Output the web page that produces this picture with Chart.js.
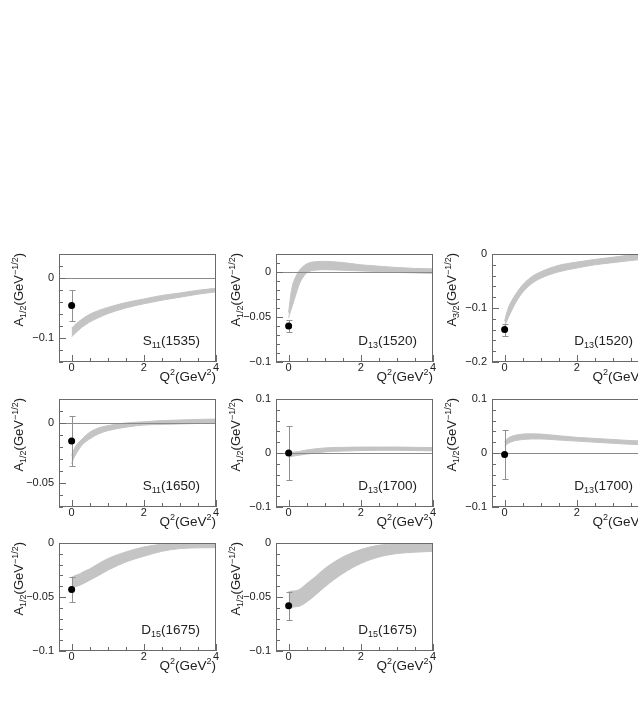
<!DOCTYPE html>
<html>
<head>
<meta charset="utf-8">
<script src="https://cdn.jsdelivr.net/npm/chart.js@4.4.1/dist/chart.umd.min.js"></script>
<style>
  html, body { margin: 0; padding: 0; background: #fff; overflow: hidden; }
  #page { position: relative; width: 638px; height: 715px; overflow: hidden; background: #fff; }
  #page canvas { position: absolute; }
</style>
</head>
<body>
<div id="page"></div>
<script>
// Q^2 grid (GeV^2) shared by every band
const qGrid = [0, 0.05, 0.1, 0.2, 0.3, 0.5, 0.75, 1, 1.5, 2, 2.5, 3, 3.5, 4];

// band edges
const s1535Lo   = [-0.098, -0.095, -0.092, -0.0865, -0.0815, -0.0735, -0.066, -0.0595, -0.050, -0.043, -0.037, -0.032, -0.027, -0.023];
const s1535Hi   = [-0.0835, -0.0805, -0.0775, -0.0725, -0.068, -0.0605, -0.054, -0.049, -0.041, -0.035, -0.029, -0.025, -0.0205, -0.017];
const d1520a1Lo = [-0.051, -0.044, -0.038, -0.025, -0.013, -0.001, 0.002, 0.0026, 0.002, 0.0012, 0.0005, -0.0005, -0.001, -0.0015];
const d1520a1Hi = [-0.045, -0.028, -0.016, -0.005, 0.002, 0.009, 0.0115, 0.0118, 0.0105, 0.008, 0.0065, 0.005, 0.004, 0.0035];
const d1520a3Lo = [-0.134, -0.126, -0.118, -0.104, -0.091, -0.071, -0.055, -0.045, -0.033, -0.026, -0.020, -0.016, -0.012, -0.009];
const d1520a3Hi = [-0.124, -0.111, -0.100, -0.086, -0.075, -0.057, -0.042, -0.033, -0.021, -0.015, -0.010, -0.006, -0.002, 0.000];
const s1650Lo   = [-0.034, -0.030, -0.027, -0.022, -0.018, -0.0133, -0.009, -0.0064, -0.0035, -0.0017, -0.0012, -0.0008, -0.0004, 0.000];
const s1650Hi   = [-0.027, -0.023, -0.020, -0.016, -0.013, -0.0078, -0.004, -0.0022, 0.000, 0.001, 0.002, 0.0025, 0.003, 0.0033];
const d1700a1Lo = [-0.008, -0.007, -0.006, -0.005, -0.004, -0.002, 0.000, 0.002, 0.0035, 0.0045, 0.005, 0.005, 0.0045, 0.004];
const d1700a1Hi = [0.001, 0.001, 0.0015, 0.002, 0.003, 0.0056, 0.0078, 0.0094, 0.0105, 0.011, 0.011, 0.011, 0.0105, 0.010];
const d1700a3Lo = [0.012, 0.015, 0.018, 0.021, 0.023, 0.025, 0.026, 0.026, 0.024, 0.022, 0.020, 0.018, 0.016, 0.015];
const d1700a3Hi = [0.021, 0.025, 0.028, 0.031, 0.033, 0.035, 0.0355, 0.035, 0.032, 0.029, 0.027, 0.025, 0.023, 0.022];
const d1675aLo  = [-0.0413, -0.041, -0.0405, -0.0395, -0.038, -0.0345, -0.030, -0.0253, -0.0176, -0.0123, -0.0077, -0.0052, -0.0045, -0.0043];
const d1675aHi  = [-0.0315, -0.031, -0.030, -0.029, -0.027, -0.024, -0.019, -0.0145, -0.0083, -0.0037, -0.0012, -0.0003, -0.0004, -0.0006];
const d1675bLo  = [-0.060, -0.0598, -0.0595, -0.059, -0.0585, -0.0546, -0.048, -0.0407, -0.0283, -0.019, -0.013, -0.0098, -0.0085, -0.0077];
const d1675bHi  = [-0.045, -0.0447, -0.0445, -0.0442, -0.043, -0.0376, -0.031, -0.0237, -0.013, -0.0061, -0.0021, -0.0006, -0.0005, -0.0005];

// photon point at Q^2 = 0 with its error
const pointQ    = 0;
const pointVals = [-0.046, -0.060, -0.140, -0.015, 0.000, -0.003, -0.043, -0.058];
const pointErrs = [0.026, 0.007, 0.011, 0.021, 0.050, 0.045, 0.0115, 0.013];

// tick labels
const xTicks = [0, 2, 4];
const yTicksA = [-0.1, 0];
const yTicksB = [-0.1, -0.05, 0];
const yTicksC = [-0.2, -0.1, 0];
const yTicksD = [-0.05, 0];
const yTicksE = [-0.1, 0, 0.1];

// resonance names and amplitude subscripts
const names = [['S', '11', '(1535)'], ['D', '13', '(1520)'], ['D', '13', '(1520)'],
               ['S', '11', '(1650)'], ['D', '13', '(1700)'], ['D', '13', '(1700)'],
               ['D', '15', '(1675)'], ['D', '15', '(1675)']];
const ampSubs = ['1/2', '1/2', '3/2', '1/2', '1/2', '1/2', '1/2', '1/2'];

// layout
const colLeft = [59, 276, 492];
const rowTop = [254, 399, 543];
const frameW = 157, frameH = 108, padL = 59, padT = 14, padB = 28, padR = 8;
const xMin = -0.35, xMax = 4;
const band = '#c4c4c4';
const ink = '#222';

const panels = [
  { c: 0, r: 0, lo: s1535Lo,   hi: s1535Hi,   ymin: -0.14, ymax: 0.04, minor: 0.02, yt: yTicksA },
  { c: 1, r: 0, lo: d1520a1Lo, hi: d1520a1Hi, ymin: -0.1,  ymax: 0.02, minor: 0.01, yt: yTicksB },
  { c: 2, r: 0, lo: d1520a3Lo, hi: d1520a3Hi, ymin: -0.2,  ymax: 0,    minor: 0.02, yt: yTicksC },
  { c: 0, r: 1, lo: s1650Lo,   hi: s1650Hi,   ymin: -0.07, ymax: 0.02, minor: 0.01, yt: yTicksD },
  { c: 1, r: 1, lo: d1700a1Lo, hi: d1700a1Hi, ymin: -0.1,  ymax: 0.1,  minor: 0.02, yt: yTicksE },
  { c: 2, r: 1, lo: d1700a3Lo, hi: d1700a3Hi, ymin: -0.1,  ymax: 0.1,  minor: 0.02, yt: yTicksE },
  { c: 0, r: 2, lo: d1675aLo,  hi: d1675aHi,  ymin: -0.1,  ymax: 0,    minor: 0.01, yt: yTicksB },
  { c: 1, r: 2, lo: d1675bLo,  hi: d1675bHi,  ymin: -0.1,  ymax: 0,    minor: 0.01, yt: yTicksB }
];

function fmt(v) {
  return v < 0 ? '\u2212' + String(-v) : String(v);
}

// text with sub/superscripts: parts = [[text, 'n'|'sub'|'sup'], ...]
function drawRich(ctx, parts, x, y, size, align) {
  const small = Math.round(size * 0.68);
  let w = 0;
  parts.forEach(([t, k]) => {
    ctx.font = (k === 'n' ? size : small) + 'px "Liberation Sans", Arial, sans-serif';
    w += ctx.measureText(t).width;
  });
  let cx = align === 'right' ? x - w : x;
  ctx.textAlign = 'left';
  ctx.textBaseline = 'alphabetic';
  parts.forEach(([t, k]) => {
    ctx.font = (k === 'n' ? size : small) + 'px "Liberation Sans", Arial, sans-serif';
    const dy = k === 'sub' ? size * 0.25 : k === 'sup' ? -size * 0.42 : 0;
    ctx.fillText(t, cx, y + dy);
    cx += ctx.measureText(t).width;
  });
}

function makeDeco(pn, idx) {
  return {
    id: 'deco' + idx,
    beforeDatasetDraw(chart, args) {
      if (args.index !== 2) return;
      const { ctx, chartArea: a, scales: { x, y } } = chart;
      ctx.save();
      // zero line
      const y0 = Math.round(y.getPixelForValue(0)) + 0.5;
      ctx.strokeStyle = '#8a8a8a';
      ctx.lineWidth = 1;
      ctx.beginPath(); ctx.moveTo(a.left, y0); ctx.lineTo(a.right, y0); ctx.stroke();
      // error bar
      const px = Math.round(x.getPixelForValue(pointQ)) + 0.5;
      const yt = Math.round(y.getPixelForValue(pointVals[idx] + pointErrs[idx])) + 0.5;
      const yb = Math.round(y.getPixelForValue(pointVals[idx] - pointErrs[idx])) + 0.5;
      ctx.strokeStyle = '#909090';
      ctx.beginPath();
      ctx.moveTo(px, yt); ctx.lineTo(px, yb);
      ctx.moveTo(px - 3, yt); ctx.lineTo(px + 3, yt);
      ctx.moveTo(px - 3, yb); ctx.lineTo(px + 3, yb);
      ctx.stroke();
      ctx.restore();
    },
    afterDatasetsDraw(chart) {
      const { ctx, chartArea: a, scales: { x, y } } = chart;
      ctx.save();
      ctx.strokeStyle = '#6a6a6a';
      ctx.lineWidth = 1;
      ctx.strokeRect(a.left + 0.5, a.top + 0.5, a.right - a.left - 1, a.bottom - a.top - 1);

      // y ticks (inside the frame)
      ctx.beginPath();
      const n = Math.round((pn.ymax - pn.ymin) / pn.minor);
      for (let i = 0; i <= n; i++) {
        const v = pn.ymin + i * pn.minor;
        const major = pn.yt.some(t => Math.abs(t - v) < 1e-9);
        const py = Math.round(y.getPixelForValue(v)) + 0.5;
        ctx.moveTo(a.left, py); ctx.lineTo(a.left + (major ? 7 : 4), py);
      }
      // x ticks
      for (let q = 0; q <= xMax + 1e-9; q += 0.5) {
        const major = xTicks.some(t => Math.abs(t - q) < 1e-9);
        const px = Math.round(x.getPixelForValue(q)) + 0.5;
        ctx.moveTo(px, a.bottom); ctx.lineTo(px, a.bottom - (major ? 7 : 4));
      }
      ctx.stroke();

      ctx.fillStyle = ink;
      ctx.font = '11px "Liberation Sans", Arial, sans-serif';
      ctx.textAlign = 'right';
      ctx.textBaseline = 'middle';
      pn.yt.forEach(v => ctx.fillText(fmt(v), a.left - 5, y.getPixelForValue(v)));
      ctx.textAlign = 'center';
      ctx.textBaseline = 'alphabetic';
      xTicks.forEach(v => ctx.fillText(fmt(v), x.getPixelForValue(v), a.bottom + 9));

      // x title
      drawRich(ctx, [['Q', 'n'], ['2', 'sup'], ['(GeV', 'n'], ['2', 'sup'], [')', 'n']],
        a.right, a.bottom + 19, 13.5, 'right');

      // resonance name
      const nm = names[idx];
      drawRich(ctx, [[nm[0], 'n'], [nm[1], 'sub'], [nm[2], 'n']],
        a.right - 16, a.bottom - 17, 13.5, 'right');

      // y title, rotated
      ctx.translate(a.left - 36, a.top - 1);
      ctx.rotate(-Math.PI / 2);
      drawRich(ctx, [['A', 'n'], [ampSubs[idx], 'sub'], ['(GeV', 'n'], ['\u22121/2', 'sup'], [')', 'n']],
        0, 0, 13, 'right');
      ctx.restore();
    }
  };
}

const page = document.getElementById('page');
const pts = arr => qGrid.map((q, i) => ({ x: q, y: arr[i] }));

panels.forEach((pn, idx) => {
  const cv = document.createElement('canvas');
  cv.width = padL + frameW + padR;
  cv.height = padT + frameH + padB;
  cv.style.left = (colLeft[pn.c] - padL) + 'px';
  cv.style.top = (rowTop[pn.r] - padT) + 'px';
  page.appendChild(cv);

  new Chart(cv, {
    type: 'line',
    data: {
      datasets: [
        { data: pts(pn.lo), borderColor: band, borderWidth: 1, pointRadius: 0, fill: false,
          cubicInterpolationMode: 'monotone', order: 3 },
        { data: pts(pn.hi), borderColor: band, borderWidth: 1, pointRadius: 0, fill: '-1',
          backgroundColor: band, cubicInterpolationMode: 'monotone', order: 2 },
        { data: [{ x: pointQ, y: pointVals[idx] }], showLine: false, pointRadius: 3.5,
          pointBackgroundColor: '#000', pointBorderColor: '#000', pointBorderWidth: 0, order: 0, clip: false }
      ]
    },
    options: {
      responsive: false,
      animation: false,
      events: [],
      layout: { autoPadding: false, padding: { left: padL, top: padT, right: padR, bottom: padB } },
      scales: {
        x: { type: 'linear', min: xMin, max: xMax, display: false },
        y: { type: 'linear', min: pn.ymin, max: pn.ymax, display: false }
      },
      plugins: { legend: { display: false }, tooltip: { enabled: false } }
    },
    plugins: [makeDeco(pn, idx)]
  });
});
</script>
</body>
</html>
